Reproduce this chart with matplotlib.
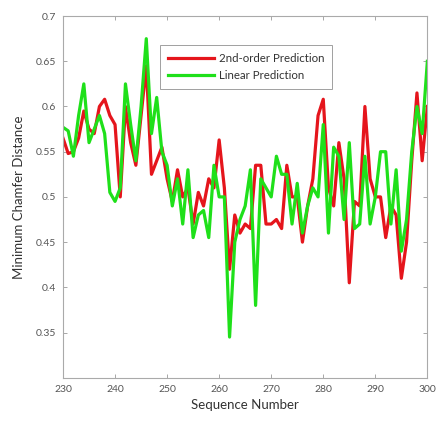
import matplotlib
matplotlib.use("Agg")
import numpy as np
from matplotlib import pyplot as plt

# sequence numbers 230..300
seq = list(range(230, 301))

second_order = [0.565, 0.548, 0.55, 0.565, 0.595, 0.575, 0.57, 0.60, 0.608, 0.59,
                0.58, 0.50, 0.60, 0.56, 0.535, 0.59, 0.645, 0.525, 0.54, 0.555,
                0.52, 0.495, 0.53, 0.50, 0.51, 0.47, 0.505, 0.49, 0.52, 0.51,
                0.563, 0.51, 0.42, 0.48, 0.46, 0.47, 0.465, 0.535, 0.535, 0.47,
                0.47, 0.475, 0.465, 0.535, 0.50, 0.50, 0.45, 0.49, 0.52, 0.59,
                0.608, 0.51, 0.49, 0.56, 0.52, 0.405, 0.495, 0.49, 0.60, 0.52,
                0.50, 0.50, 0.455, 0.49, 0.48, 0.41, 0.45, 0.54, 0.615, 0.54,
                0.60]

linear = [0.577, 0.573, 0.545, 0.59, 0.625, 0.56, 0.575, 0.59, 0.57, 0.505,
          0.495, 0.51, 0.625, 0.58, 0.54, 0.60, 0.675, 0.57, 0.61, 0.55,
          0.535, 0.49, 0.52, 0.47, 0.53, 0.455, 0.48, 0.485, 0.455, 0.535,
          0.50, 0.50, 0.345, 0.45, 0.475, 0.49, 0.53, 0.38, 0.52, 0.51,
          0.50, 0.545, 0.525, 0.525, 0.47, 0.515, 0.46, 0.49, 0.51, 0.50,
          0.58, 0.46, 0.555, 0.545, 0.475, 0.56, 0.465, 0.47, 0.545, 0.47,
          0.50, 0.55, 0.55, 0.47, 0.53, 0.44, 0.475, 0.55, 0.60, 0.57,
          0.65]

xticks = [230, 240, 250, 260, 270, 280, 290, 300]
yticks = [0.35, 0.4, 0.45, 0.5, 0.55, 0.6, 0.65, 0.7]

plt.rcParams['font.family'] = ['Lato', 'DejaVu Sans']

fig = plt.figure(figsize=(4.39, 4.23), dpi=100)
ax = fig.add_axes([0.1435, 0.107, 0.83, 0.855])

ax.plot(seq, second_order, color='#e5151c', lw=2.3, label='2nd-order Prediction')
ax.plot(seq, linear, color='#1fe01a', lw=2.3, label='Linear Prediction')

ax.set_xlim(230, 300)
ax.set_ylim(0.3, 0.7)
ax.set_xticks(xticks)
ax.set_yticks(yticks)
ax.set_yticklabels([('%g' % v) for v in yticks])
ax.tick_params(direction='in', length=3, width=0.6, colors='#999999',
               labelcolor='#555555', labelsize=7.5, top=True, right=True, pad=5)
for s in ax.spines.values():
    s.set_color('#aaaaaa')
    s.set_linewidth(0.8)

ax.set_xlabel("Sequence Number", fontsize=9.5, color='#333333', labelpad=4)
ax.set_ylabel("Minimum Chamfer Distance", fontsize=9.5, color='#333333', labelpad=8)

leg = ax.legend(loc='upper left', bbox_to_anchor=(0.25, 0.935), fontsize=8.3,
                frameon=True, fancybox=False, handlelength=4.0,
                borderpad=0.7, labelspacing=0.5, handletextpad=0.4)
leg.get_frame().set_edgecolor('#888888')
leg.get_frame().set_linewidth(0.7)
for t in leg.get_texts():
    t.set_color('#333333')

fig.savefig("out.png", dpi=100)
